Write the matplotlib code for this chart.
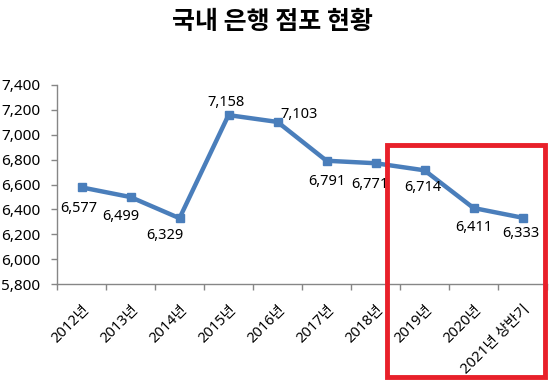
import matplotlib
matplotlib.use("Agg")
import matplotlib.pyplot as plt
from matplotlib.patches import Rectangle
from matplotlib.ticker import FuncFormatter
import numpy as np

plt.rcParams['font.family'] = ['Noto Sans', 'Noto Sans CJK KR', 'DejaVu Sans']

years = ['2012년', '2013년', '2014년', '2015년', '2016년', '2017년',
         '2018년', '2019년', '2020년', '2021년 상반기']
branches = [6577, 6499, 6329, 7158, 7103, 6791, 6771, 6714, 6411, 6333]
# label offsets in pixels (dx, dy) relative to each point
label_offsets = [(-3, -21), (-10, -19), (-15, -17), (-3, 13), (22, 7),
                 (0, -21), (-6, -21), (-2, -17), (0, -19), (-2, -16)]

fig = plt.figure(figsize=(5.5, 3.81), dpi=100)
ax = fig.add_axes([57 / 550, 1 - 284 / 381, 490 / 550, (284 - 85) / 381])

x = np.arange(len(years))
line_color = '#4a7ebb'
ax.plot(x, branches, color=line_color, lw=3.2, marker='s', markersize=6,
        markerfacecolor=line_color, markeredgecolor=line_color, solid_joinstyle='round')

for xi, v, (dx, dy) in zip(x, branches, label_offsets):
    ax.annotate(f'{v:,}', (xi, v), xytext=(dx * 0.72, dy * 0.72), textcoords='offset points',
                ha='center', va='center', fontsize=10.5, color='#000000')

ax.set_xlim(-0.5, len(years) - 0.5)
ax.set_ylim(5800, 7400)
ax.set_yticks(np.arange(5800, 7401, 200))
ax.yaxis.set_major_formatter(FuncFormatter(lambda v, p: f'{int(v):,}'))

ax.set_xticks(x)
ax.set_xticklabels(years, rotation=45, ha='right', rotation_mode='anchor', fontsize=10.5)
ax.set_xticks(np.arange(-0.5, len(years)), minor=True)
ax.tick_params(axis='x', which='major', length=0, pad=13)
ax.tick_params(axis='x', which='minor', length=4, color='#868686', width=1)
ax.tick_params(axis='y', length=4, color='#868686', width=1, pad=8, labelsize=11)

for s in ['top', 'right']:
    ax.spines[s].set_visible(False)
for s in ['left', 'bottom']:
    ax.spines[s].set_color('#868686')
    ax.spines[s].set_linewidth(1)

fig.text(272 / 550, 1 - 22 / 381, '국내 은행 점포 현황', ha='center', va='center',
         fontsize=18, fontweight='bold', family=['Noto Sans CJK KR', 'DejaVu Sans'])

fig.patches.append(Rectangle((387 / 550, 1 - 377 / 381), (545 - 387) / 550, (377 - 144.5) / 381,
                             transform=fig.transFigure, fill=False, edgecolor='#e8202a',
                             linewidth=3.5, zorder=10))

fig.savefig('out.png', dpi=100)
